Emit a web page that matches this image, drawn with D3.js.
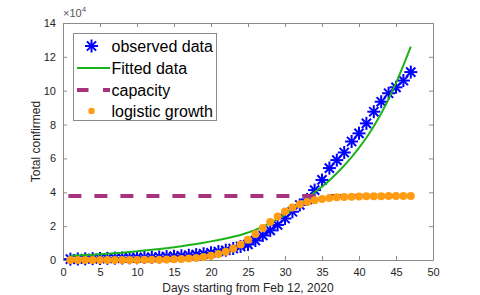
<!DOCTYPE html>
<html><head><meta charset="utf-8">
<script src="https://cdn.jsdelivr.net/npm/d3@7/dist/d3.min.js"></script>
<style>body{margin:0;background:#fff}svg{display:block;font-family:"Liberation Sans",Arial,sans-serif}</style>
</head><body><svg id="c" width="480" height="295"></svg>
<script>
const days = d3.range(1, 48);
// observed totals (x 10^4)
const observed = [0.05,0.06,0.07,0.08,0.09,0.10,0.11,0.12,0.13,0.14,0.15,0.16,0.18,0.20,0.22,0.25,0.28,0.32,0.37,0.43,0.50,0.58,0.68,0.80,0.92,1.15,1.45,1.75,2.07,2.45,2.85,3.25,3.58,4.13,4.73,5.43,5.90,6.35,7.00,7.48,8.07,8.76,9.35,9.85,10.20,10.60,11.10];
// fitted curve (x 10^4)
const fitted = [0.25,0.27,0.29,0.31,0.34,0.37,0.40,0.43,0.47,0.51,0.56,0.60,0.65,0.70,0.75,0.81,0.88,0.94,1.02,1.10,1.18,1.27,1.37,1.48,1.62,1.78,1.97,2.18,2.42,2.68,2.98,3.30,3.64,4.00,4.33,4.70,5.12,5.58,6.08,6.62,7.22,7.90,8.65,9.50,10.45,11.50,12.60];
// logistic growth (x 10^4)
const logistic = [0.000,0.000,0.000,0.000,0.000,0.001,0.001,0.002,0.003,0.006,0.008,0.012,0.018,0.026,0.039,0.057,0.083,0.12,0.173,0.247,0.35,0.49,0.68,0.915,1.20,1.54,1.89,2.24,2.57,2.86,3.10,3.29,3.43,3.53,3.61,3.66,3.70,3.72,3.74,3.75,3.76,3.77,3.77,3.775,3.78,3.78,3.78];
const capacityValue = 3.78;
const capacityDays = [1, 47];
const xTicks = [0,5,10,15,20,25,30,35,40,45,50];
const yTicks = [0,2,4,6,8,10,12,14];
const legendLabels = ["observed data","Fitted data","capacity","logistic growth"];

const svg = d3.select("#c");
const L = 63, R = 433, T = 23, B = 260;
const x = d3.scaleLinear().domain([0,50]).range([L,R]);
const y = d3.scaleLinear().domain([0,14]).range([B,T]);
const axisCol = "#262626", frameCol = "#8a8a8a";

// axes
const gx = svg.append("g").attr("transform",`translate(0,${B})`)
  .call(d3.axisBottom(x).tickValues(xTicks).tickSizeInner(-4).tickSizeOuter(0).tickPadding(8));
const gxt = svg.append("g").attr("transform",`translate(0,${T})`)
  .call(d3.axisTop(x).tickValues(xTicks).tickSizeInner(-4).tickSizeOuter(0).tickFormat(""));
const gy = svg.append("g").attr("transform",`translate(${L},0)`)
  .call(d3.axisLeft(y).tickValues(yTicks).tickSizeInner(-4).tickSizeOuter(0).tickPadding(7));
const gyr = svg.append("g").attr("transform",`translate(${R},0)`)
  .call(d3.axisRight(y).tickValues(yTicks).tickSizeInner(-4).tickSizeOuter(0).tickFormat(""));
[gx,gxt,gy,gyr].forEach(g=>{
  g.select(".domain").attr("stroke",frameCol).attr("stroke-width",1);
  g.selectAll(".tick line").attr("stroke",frameCol);
  g.selectAll("text").attr("fill",axisCol).style("font-size","11px").style("font-family","'Liberation Sans',Arial,sans-serif");
});

// exponent label
const ex = svg.append("text").attr("x",L).attr("y",17).attr("fill","#555").style("font-size","11px");
ex.append("tspan").text("×10");
ex.append("tspan").attr("dy",-5).style("font-size","8px").text("4");

// axis labels
svg.append("text").attr("x",(L+R)/2).attr("y",292).attr("text-anchor","middle").attr("fill",axisCol)
  .style("font-size","12px").text("Days starting from Feb 12, 2020");
svg.append("text").attr("transform",`translate(40,${(T+B)/2}) rotate(-90)`).attr("text-anchor","middle")
  .attr("fill",axisCol).style("font-size","12px").text("Total confirmed");

const blue = "#0000ff", green = "#19b319", mag = "#a8327e", orange = "#ff9c12";

// star marker
function star(g, cx, cy, s){
  const a = [0,45,90,135];
  a.forEach(d=>{
    const r = d*Math.PI/180;
    g.append("line").attr("x1",cx-s*Math.cos(r)).attr("y1",cy-s*Math.sin(r))
      .attr("x2",cx+s*Math.cos(r)).attr("y2",cy+s*Math.sin(r))
      .attr("stroke",blue).attr("stroke-width",2);
  });
}

const plot = svg.append("g");
const gs = plot.append("g");
days.forEach((d,i)=>star(gs, x(d), y(observed[i]), 6.5));

plot.append("path").datum(days.map((d,i)=>[d,fitted[i]]))
  .attr("d", d3.line().x(d=>x(d[0])).y(d=>y(d[1])))
  .attr("fill","none").attr("stroke",green).attr("stroke-width",2);

plot.append("line").attr("x1",x(capacityDays[0])-2).attr("x2",x(capacityDays[1]))
  .attr("y1",y(capacityValue)).attr("y2",y(capacityValue))
  .attr("stroke",mag).attr("stroke-width",4).attr("stroke-dasharray","13,13");

plot.selectAll("circle.lg").data(days).enter().append("circle")
  .attr("cx",d=>x(d)).attr("cy",(d,i)=>y(logistic[i])).attr("r",4).attr("fill",orange);

// legend
const lg = svg.append("g");
lg.append("rect").attr("x",73.5).attr("y",33.5).attr("width",143).attr("height",87)
  .attr("fill","#fff").attr("stroke",frameCol).attr("stroke-width",1);
const rowsY = [46,68,90,111];
star(lg, 91.5, rowsY[0], 6.5);
lg.append("line").attr("x1",77).attr("x2",110).attr("y1",rowsY[1]).attr("y2",rowsY[1]).attr("stroke",green).attr("stroke-width",2);
lg.append("line").attr("x1",77).attr("x2",110).attr("y1",rowsY[2]).attr("y2",rowsY[2]).attr("stroke",mag).attr("stroke-width",4).attr("stroke-dasharray","11.5,14.5");
lg.append("circle").attr("cx",91.5).attr("cy",rowsY[3]).attr("r",3.2).attr("fill",orange);
legendLabels.forEach((t,i)=>{
  lg.append("text").attr("x",111.5).attr("y",rowsY[i]+5.5).attr("fill","#000").style("font-size","16px").text(t);
});
</script></body></html>
